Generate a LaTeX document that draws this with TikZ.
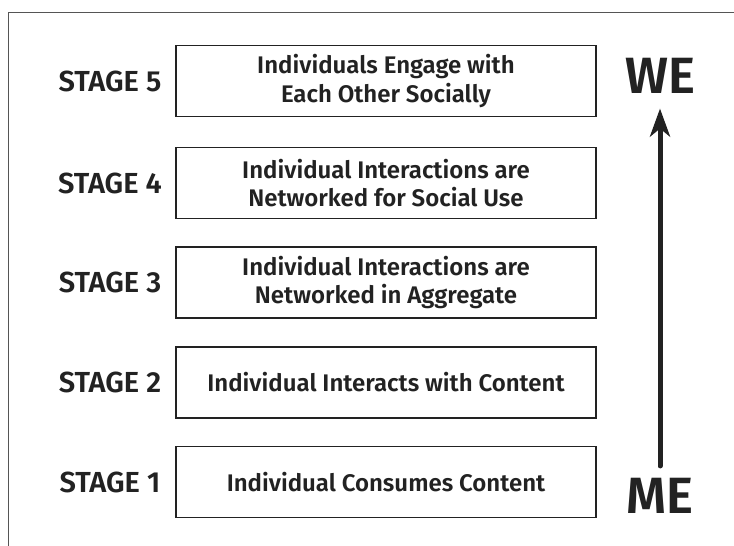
\documentclass[tikz,border=0pt]{standalone}
\usepackage{fontspec}
\setmainfont{Fira Sans}[UprightFont={* SemiBold},BoldFont={* Bold}]
\usetikzlibrary{arrows.meta}
\definecolor{ink}{HTML}{222222}
\definecolor{framegray}{HTML}{555555}
\begin{document}
\begin{tikzpicture}[x=0.5pt,y=-0.5pt,
	stagebox/.style={draw=ink,line width=0.6pt,minimum width=210pt,minimum height=35.5pt,align=center,text=ink,font=\fontsize{12}{14.2}\selectfont},
	stagelabel/.style={text=ink,font=\fontsize{14.5}{16}\selectfont},
	pole/.style={text=ink,font=\fontsize{25.5}{28}\selectfont,inner sep=0pt}]
	\useasboundingbox (0,0) rectangle (734,546);
	\draw[framegray,line width=0.7pt] (8.7,546) -- (8.7,12.3) -- (734,12.3);

	\node[stagebox] (b5) at (386,81) {Individuals Engage with\\Each Other Socially};
	\node[stagebox] (b4) at (386,183) {Individual Interactions are\\Networked for Social Use};
	\node[stagebox] (b3) at (386,282.5) {Individual Interactions are\\Networked in Aggregate};
	\node[stagebox] (b2) at (386,382.5) {Individual Interacts with Content};
	\node[stagebox] (b1) at (386,482) {Individual Consumes Content};

	\node[stagelabel] (s5) at (110,81) {STAGE 5};
	\node[stagelabel] (s4) at (110,183) {STAGE 4};
	\node[stagelabel] (s3) at (110,282.5) {STAGE 3};
	\node[stagelabel] (s2) at (110,382.5) {STAGE 2};
	\node[stagelabel] (s1) at (110,482) {STAGE 1};

	\node[pole] (we) at (660,75.5) {WE};
	\node[pole] (me) at (660,496) {ME};
	\draw[ink,line width=2.5pt,line cap=round,-{Stealth[length=14pt,width=10pt,inset=4pt]}]
		([yshift=6pt]me.north) -- ([yshift=-7.5pt]we.south);
\end{tikzpicture}
\end{document}
